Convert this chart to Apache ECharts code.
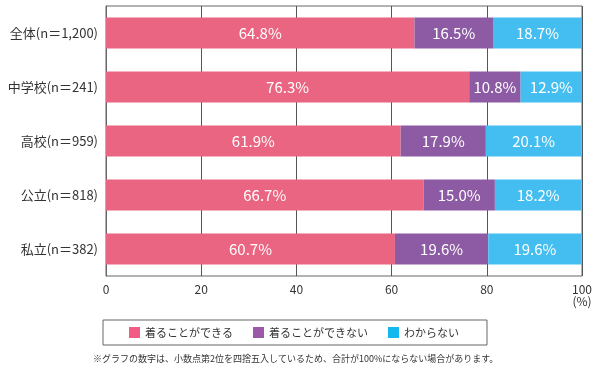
<!DOCTYPE html>
<html><head><meta charset="utf-8">
<script src="https://cdn.jsdelivr.net/npm/echarts@6/dist/echarts.min.js"></script>
<style>html,body{margin:0;padding:0;background:#fff}#c{width:599px;height:368px}</style>
</head><body><div id="c"></div>
<script>
const categories = ['全体(n＝1,200)', '中学校(n＝241)', '高校(n＝959)', '公立(n＝818)', '私立(n＝382)'];
const seriesNames = ['着ることができる', '着ることができない', 'わからない'];
const canWear = [64.8, 76.3, 61.9, 66.7, 60.7];
const cannotWear = [16.5, 10.8, 17.9, 15.0, 19.6];
const unknown = [18.7, 12.9, 20.1, 18.2, 19.6];
const xTicks = [0, 20, 40, 60, 80, 100];
const note = '※グラフの数字は、小数点第2位を四捨五入しているため、合計が100%にならない場合があります。';

const FONT = '"Noto Sans CJK JP", "Noto Sans", sans-serif';
const barColors = ['#EA6581', '#8D5BA4', '#44BEF0'];
const legendColors = ['#F25C84', '#9B59A8', '#12B8EE'];

function mk(name, data, i) {
  return {
    name, type: 'bar', stack: 'total', data, barWidth: 31,
    itemStyle: { color: barColors[i] },
    label: { show: true, position: 'inside', color: '#fff', fontSize: 15, fontFamily: FONT,
      formatter: p => p.value.toFixed(1) + '%' },
    emphasis: { disabled: true }
  };
}

const chart = echarts.init(document.getElementById('c'), null, { renderer: 'canvas' });
chart.setOption({
  animation: false,
  textStyle: { fontFamily: FONT },
  grid: { left: 106, right: 17, top: 6, bottom: 92, containLabel: false, outerBoundsMode: 'none',
    show: true, borderColor: '#666', borderWidth: 1 },
  xAxis: {
    type: 'value', min: 0, max: 100, interval: 20,
    axisLine: { show: false }, axisTick: { show: false },
    splitLine: { show: true, lineStyle: { color: '#555', width: 1 } },
    axisLabel: { color: '#333', fontSize: 12, fontFamily: FONT, margin: 7,
      formatter: v => xTicks.includes(v) ? (v === 100 ? '100\n(%)' : String(v)) : '' }
  },
  yAxis: {
    type: 'category', data: categories, inverse: true,
    axisLine: { show: true, lineStyle: { color: '#666' } }, axisTick: { show: false },
    axisLabel: { color: '#333', fontSize: 13, fontFamily: FONT, margin: 8 }
  },
  legend: {
    data: seriesNames.map((n, i) => ({ name: n, itemStyle: { color: legendColors[i] } })),
    left: 103, top: 320, orient: 'horizontal',
    itemWidth: 11, itemHeight: 11, itemGap: 20, icon: 'rect',
    padding: [7, 28, 7, 26], borderColor: '#666', borderWidth: 1,
    textStyle: { color: '#333', fontSize: 11, fontFamily: FONT },
    selectedMode: false
  },
  graphic: [{ type: 'text', left: 93, top: 354, style: { text: note, fill: '#333', font: '9px ' + FONT } }],
  series: [mk(seriesNames[0], canWear, 0), mk(seriesNames[1], cannotWear, 1), mk(seriesNames[2], unknown, 2)]
});
</script></body></html>
